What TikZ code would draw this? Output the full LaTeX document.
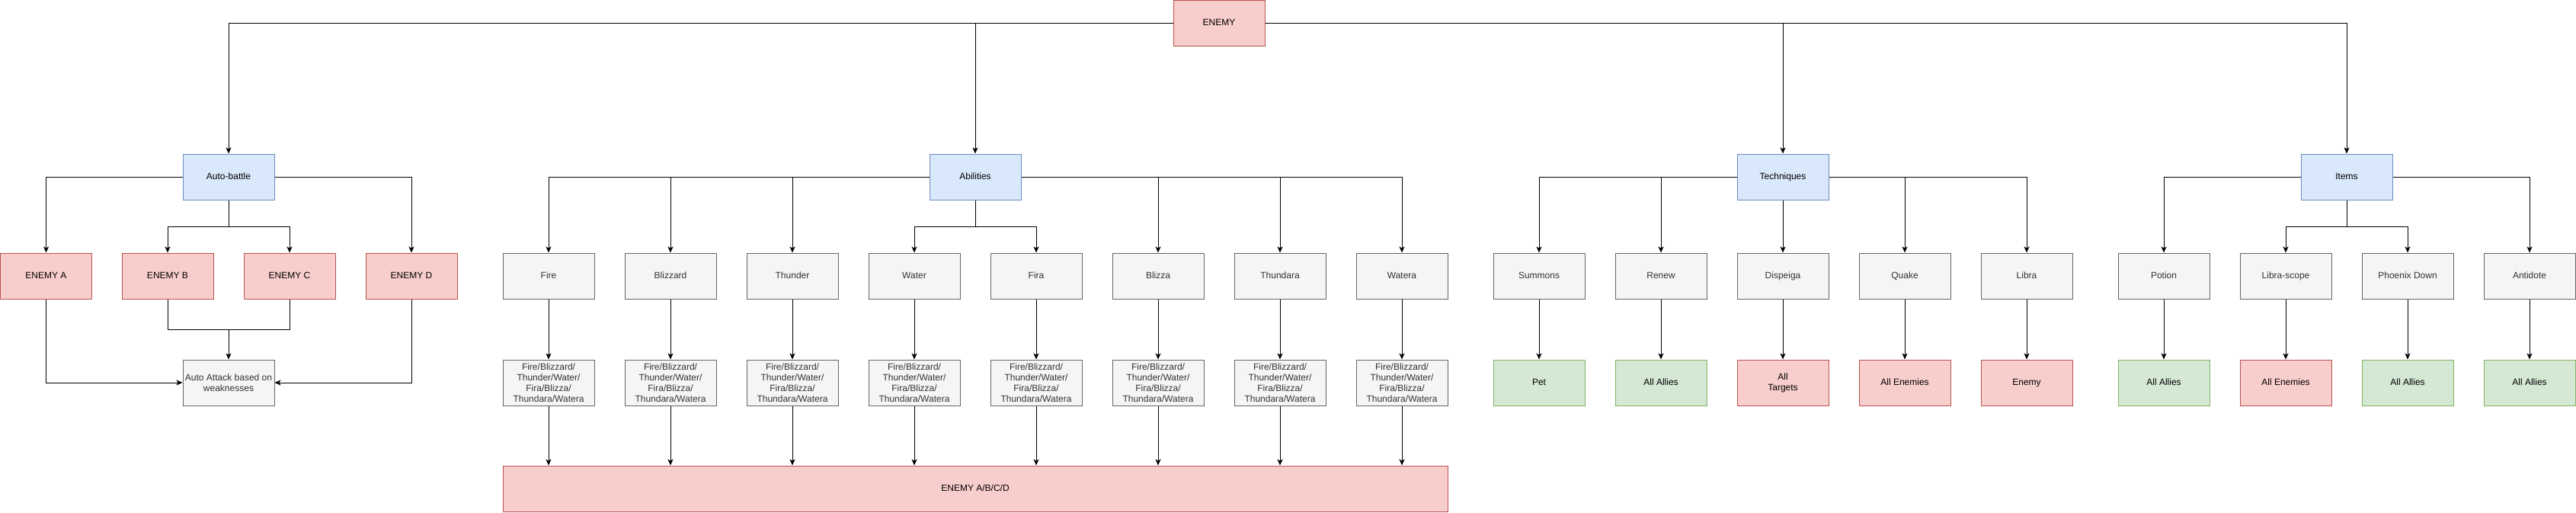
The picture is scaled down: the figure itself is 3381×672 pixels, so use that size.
\documentclass[tikz,border=0pt]{standalone}
\usepackage{fontspec}
\setmainfont{Liberation Sans}
\usetikzlibrary{arrows.meta}
\definecolor{bluefill}{HTML}{DAE8FC}\definecolor{bluedraw}{HTML}{6C8EBF}
\definecolor{redfill}{HTML}{F8CECC}\definecolor{reddraw}{HTML}{B85450}
\definecolor{greenfill}{HTML}{D5E8D4}\definecolor{greendraw}{HTML}{82B366}
\definecolor{grayfill}{HTML}{F5F5F5}\definecolor{graydraw}{HTML}{666666}
\definecolor{graytext}{HTML}{333333}
\begin{document}
\begin{tikzpicture}[x=1pt,y=-1pt,
  base/.style={rectangle,minimum width=120pt,minimum height=60pt,inner sep=0pt,line width=1pt,align=center,font=\fontsize{12}{14}\selectfont},
  box/.style={base,text height=8.6pt,text depth=2.4pt},
  bluecol/.style={fill=bluefill,draw=bluedraw},
  redcol/.style={fill=redfill,draw=reddraw},
  greencol/.style={fill=greenfill,draw=greendraw},
  graycol/.style={fill=grayfill,draw=graydraw,text=graytext},
  bluebox/.style={box,bluecol},
  redbox/.style={box,redcol},
  greenbox/.style={box,greencol},
  graybox/.style={box,graycol},
  redmbox/.style={base,redcol},
  graymbox/.style={base,graycol},
  arr/.style={line width=1pt,-{Stealth[length=8pt,width=7pt,inset=2pt]}},
  ln/.style={line width=1pt}]
\useasboundingbox (0,0) rectangle (3381,672);
% top
\node[redbox] (enemy) at (1600,30) {ENEMY};
% level 1
\node[bluebox] (auto) at (300,232) {Auto-battle};
\node[bluebox] (abil) at (1280,232) {Abilities};
\node[bluebox] (tech) at (2340,232) {Techniques};
\node[bluebox] (items) at (3080,232) {Items};
% auto-battle branch
\node[redbox] (ea) at (60.5,362) {ENEMY A};
\node[redbox] (eb) at (220,362) {ENEMY B};
\node[redbox] (ec) at (380,362) {ENEMY C};
\node[redbox] (ed) at (540,362) {ENEMY D};
\node[graymbox] (aa) at (300,502) {Auto Attack based on\\weaknesses};
% abilities
\node[graybox] (fire) at (720,362) {Fire};
\node[graybox] (bliz) at (880,362) {Blizzard};
\node[graybox] (thun) at (1040,362) {Thunder};
\node[graybox] (water) at (1200,362) {Water};
\node[graybox] (fira) at (1360,362) {Fira};
\node[graybox] (blizza) at (1520,362) {Blizza};
\node[graybox] (thundara) at (1680,362) {Thundara};
\node[graybox] (watera) at (1840,362) {Watera};
\foreach \n/\x in {1/720,2/880,3/1040,4/1200,5/1360,6/1520,7/1680,8/1840}
  \node[graymbox] (fb\n) at (\x,502) {Fire/Blizzard/\\Thunder/Water/\\Fira/Blizza/\\Thundara/Watera};
\node[redbox,minimum width=1240pt] (all) at (1280,641) {ENEMY A/B/C/D};
% techniques
\node[graybox] (summ) at (2020,362) {Summons};
\node[graybox] (renew) at (2180,362) {Renew};
\node[graybox] (disp) at (2340,362) {Dispeiga};
\node[graybox] (quake) at (2500,362) {Quake};
\node[graybox] (libra) at (2660,362) {Libra};
\node[greenbox] (pet) at (2020,502) {Pet};
\node[greenbox] (allies1) at (2180,502) {All Allies};
\node[redmbox] (targets) at (2340,502) {All\\Targets};
\node[redbox] (enemies1) at (2500,502) {All Enemies};
\node[redbox] (enemy1) at (2660,502) {Enemy};
% items
\node[graybox] (potion) at (2840,362) {Potion};
\node[graybox] (scope) at (3000,362) {Libra-scope};
\node[graybox] (phoenix) at (3160,362) {Phoenix Down};
\node[graybox] (antidote) at (3320,362) {Antidote};
\node[greenbox] (allies2) at (2840,502) {All Allies};
\node[redbox] (enemies2) at (3000,502) {All Enemies};
\node[greenbox] (allies3) at (3160,502) {All Allies};
\node[greenbox] (allies4) at (3320,502) {All Allies};
% junctions
\coordinate (autoj) at (300,297);
\coordinate (autom) at (300,432);
\coordinate (abilj) at (1280,297);
\coordinate (itemsj) at (3080,297);
% edges from top
\draw[arr] (enemy.west) -| (auto.north);
\draw[arr] (enemy.west) -| (abil.north);
\draw[arr] (enemy.east) -| (tech.north);
\draw[arr] (enemy.east) -| (items.north);
% auto-battle edges
\draw[arr] (auto.west) -| (ea.north);
\draw[arr] (auto.east) -| (ed.north);
\draw[ln] (auto.south) -- (autoj);
\draw[arr] (autoj) -| (eb.north);
\draw[arr] (autoj) -| (ec.north);
\draw[arr] (ea.south) |- (aa.west);
\draw[arr] (ed.south) |- (aa.east);
\draw[ln] (eb.south) |- (autom);
\draw[ln] (ec.south) |- (autom);
\draw[arr] (autom) -- (aa.north);
% abilities edges
\foreach \c in {fire,bliz,thun} \draw[arr] (abil.west) -| (\c.north);
\foreach \c in {blizza,thundara,watera} \draw[arr] (abil.east) -| (\c.north);
\draw[ln] (abil.south) -- (abilj);
\draw[arr] (abilj) -| (water.north);
\draw[arr] (abilj) -| (fira.north);
\foreach \c/\n in {fire/1,bliz/2,thun/3,water/4,fira/5,blizza/6,thundara/7,watera/8} {
  \draw[arr] (\c.south) -- (fb\n.north);
  \draw[arr] (fb\n.south) -- (fb\n.south |- all.north);
}
% techniques edges
\foreach \c in {summ,renew} \draw[arr] (tech.west) -| (\c.north);
\foreach \c in {quake,libra} \draw[arr] (tech.east) -| (\c.north);
\draw[arr] (tech.south) -- (disp.north);
\foreach \a/\b in {summ/pet,renew/allies1,disp/targets,quake/enemies1,libra/enemy1} \draw[arr] (\a.south) -- (\b.north);
% items edges
\draw[arr] (items.west) -| (potion.north);
\draw[arr] (items.east) -| (antidote.north);
\draw[ln] (items.south) -- (itemsj);
\draw[arr] (itemsj) -| (scope.north);
\draw[arr] (itemsj) -| (phoenix.north);
\foreach \a/\b in {potion/allies2,scope/enemies2,phoenix/allies3,antidote/allies4} \draw[arr] (\a.south) -- (\b.north);
\end{tikzpicture}
\end{document}
